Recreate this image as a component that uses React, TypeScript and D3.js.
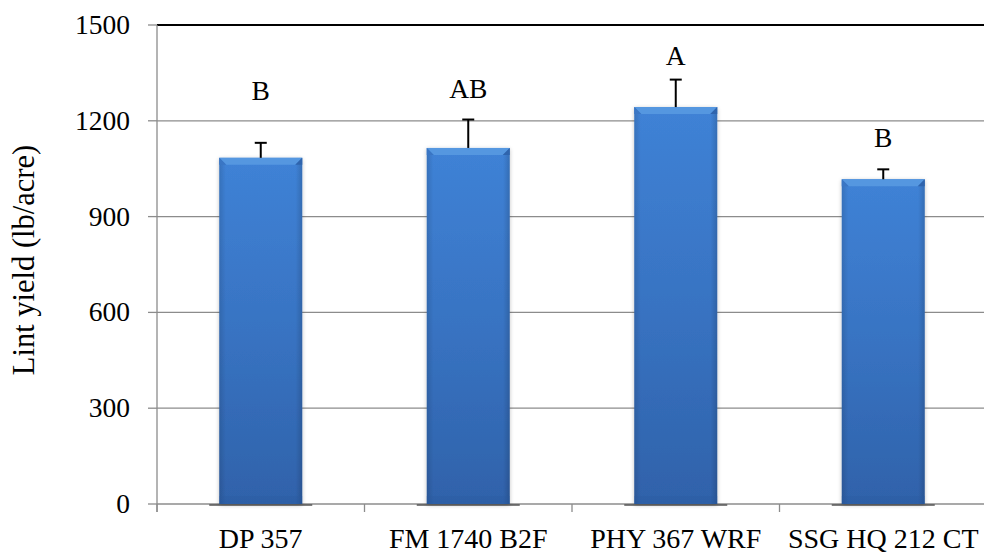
import React from "react";
import * as d3 from "d3";

const categories = ["DP 357", "FM 1740 B2F", "PHY 367 WRF", "SSG HQ 212 CT"];
const yields = [1084, 1115, 1243, 1017];
const errors = [47, 89, 86, 31];
const letters = ["B", "AB", "A", "B"];
const letterValues = [1296, 1302, 1405, 1149];
const yTicks = [0, 300, 600, 900, 1200, 1500];

const W = 984;
const H = 554;
const left = 157;
const right = 987;
const top = 25;
const bottom = 504;

export default function App() {
  const x = d3.scaleBand<string>().domain(categories).range([left, right]).paddingInner(0.6).paddingOuter(0.3);
  const y = d3.scaleLinear().domain([0, 1500]).range([bottom, top]);
  const bw = x.bandwidth();
  const font = "'Liberation Serif', 'Times New Roman', serif";
  const boundaries = d3.range(categories.length + 1).map((i) => left + i * ((right - left) / categories.length));

  return (
    <svg width={W} height={H} style={{ position: "absolute", left: 0, top: 0, background: "#fff" }}>
      <defs>
        <linearGradient id="barGrad" x1="0" y1="0" x2="0" y2="1">
          <stop offset="0" stopColor="#3f82d6" />
          <stop offset="0.5" stopColor="#3873c2" />
          <stop offset="1" stopColor="#2f62aa" />
        </linearGradient>
        <linearGradient id="sideGrad" x1="0" y1="0" x2="1" y2="0">
          <stop offset="0" stopColor="#000" stopOpacity="0.12" />
          <stop offset="0.08" stopColor="#000" stopOpacity="0" />
          <stop offset="0.92" stopColor="#000" stopOpacity="0" />
          <stop offset="1" stopColor="#000" stopOpacity="0.15" />
        </linearGradient>
        <filter id="shadow" x="-20%" y="-5%" width="140%" height="110%">
          <feGaussianBlur in="SourceAlpha" stdDeviation="2" />
          <feOffset dx="0" dy="1" />
          <feComponentTransfer>
            <feFuncA type="linear" slope="0.25" />
          </feComponentTransfer>
          <feMerge>
            <feMergeNode />
            <feMergeNode in="SourceGraphic" />
          </feMerge>
        </filter>
      </defs>

      {yTicks.filter((t) => t > 0 && t < 1500).map((t) => (
        <line key={t} x1={left} x2={W} y1={y(t)} y2={y(t)} stroke="#8c8c8c" strokeWidth={1.3} />
      ))}
      <line x1={left} x2={W} y1={y(1500)} y2={y(1500)} stroke="#000" strokeWidth={2.2} />

      <line x1={left} x2={left} y1={top} y2={bottom + 8} stroke="#8c8c8c" strokeWidth={1.3} />
      {yTicks.map((t) => (
        <g key={t}>
          <line x1={left - 9} x2={left} y1={y(t)} y2={y(t)} stroke="#8c8c8c" strokeWidth={1.3} />
          <text x={left - 27} y={y(t)} dy="0.33em" textAnchor="end" fontFamily={font} fontSize={27.5}>
            {t}
          </text>
        </g>
      ))}

      <line x1={left} x2={W} y1={bottom} y2={bottom} stroke="#8c8c8c" strokeWidth={1.3} />
      {boundaries.map((b, i) => (
        <line key={i} x1={b} x2={b} y1={bottom} y2={bottom + 8} stroke="#8c8c8c" strokeWidth={1.3} />
      ))}

      {categories.map((c, i) => {
        const x0 = x(c)!;
        const yt = y(yields[i]);
        const h = bottom - yt;
        const bev = 7;
        const cx = x0 + bw / 2;
        const ye = y(yields[i] + errors[i]);
        return (
          <g key={c}>
            <line x1={x0 - 10} x2={x0 + bw + 10} y1={bottom + 1} y2={bottom + 1} stroke="#555" strokeWidth={1.5} />
            <g filter="url(#shadow)">
              <rect x={x0} y={yt} width={bw} height={h} fill="url(#barGrad)" />
            </g>
            <rect x={x0} y={yt} width={bw} height={h} fill="url(#sideGrad)" />
            <polygon
              points={`${x0},${yt} ${x0 + bw},${yt} ${x0 + bw - bev},${yt + bev} ${x0 + bev},${yt + bev}`}
              fill="#5597e0"
            />
            <polygon points={`${x0},${yt} ${x0 + bev},${yt + bev} ${x0},${yt + bev}`} fill="#3a76c4" />
            <polygon points={`${x0 + bw},${yt} ${x0 + bw - bev},${yt + bev} ${x0 + bw},${yt + bev}`} fill="#2f64ad" />
            <rect x={x0} y={bottom - 8} width={bw} height={8} fill="#2a5a9e" opacity={0.3} />
            <line x1={cx} x2={cx} y1={yt} y2={ye} stroke="#000" strokeWidth={2} />
            <line x1={cx - 6} x2={cx + 6} y1={ye} y2={ye} stroke="#000" strokeWidth={2} />
            <text x={cx} y={y(letterValues[i])} dy="0.35em" textAnchor="middle" fontFamily={font} fontSize={27.5}>
              {letters[i]}
            </text>
            <text x={cx} y={bottom + 34} dy="0.35em" textAnchor="middle" fontFamily={font} fontSize={28}>
              {c}
            </text>
          </g>
        );
      })}

      <text
        transform={`translate(23,260) rotate(-90)`}
        textAnchor="middle"
        dy="0.35em"
        fontFamily={font}
        fontSize={30.5}
      >
        Lint yield (lb/acre)
      </text>
    </svg>
  );
}
